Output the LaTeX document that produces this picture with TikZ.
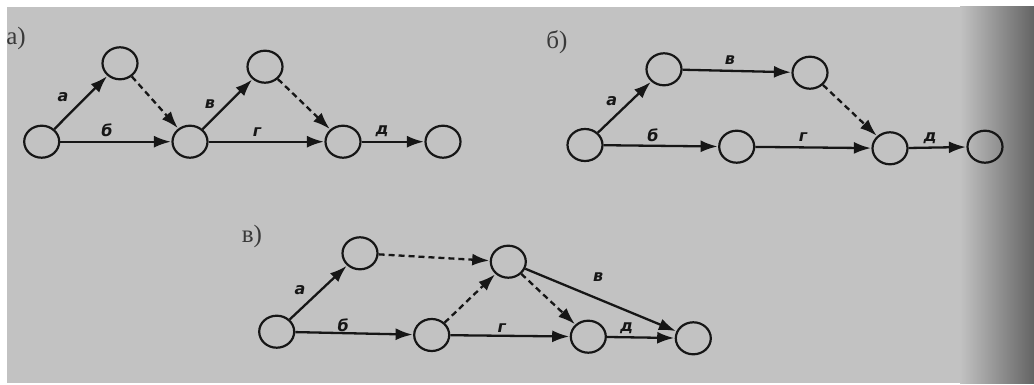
\documentclass[tikz,border=0pt]{standalone}
\usepackage{fontspec}
\setmainfont{Liberation Serif}
\newfontfamily\lblfont{DejaVu Sans}
\usetikzlibrary{arrows.meta,shapes.geometric}
\definecolor{paper}{RGB}{194,194,194}
\definecolor{paperdark}{RGB}{100,100,100}
\definecolor{ink}{RGB}{22,22,22}
\tikzset{
  ev/.style={ellipse, draw=ink, line width=2.2pt, minimum width=35pt, minimum height=32pt, inner sep=0pt},
  job/.style={draw=ink, line width=2.3pt, -{Latex[length=17pt,width=12pt]}, shorten >=0.5pt},
  dummy/.style={job, dash pattern=on 6pt off 4pt},
  jl/.style={font=\lblfont\bfseries\itshape\fontsize{16}{16}\selectfont, text=ink, inner sep=0pt},
  pl/.style={font=\fontsize{25}{25}\selectfont, text=ink!85, inner sep=0pt},
}
\begin{document}
\begin{tikzpicture}[x=1pt, y=-1pt]
\useasboundingbox (0,0) rectangle (1034,385);
% scanned page
\fill[white] (0,0) rectangle (1034,385);
\fill[paper] (7,7) rectangle (1034,383);
\shade[left color=paper, right color=paperdark] (960,7) rectangle (1034,383);

% ---- a)
\node[pl] (pa) at (16,38) {а)};
\node[ev] (a1) at (41.7,141.7) {};
\node[ev] (a2) at (120,63.3) {};
\node[ev] (a3) at (190,141.7) {};
\node[ev] (a4) at (265,66.7) {};
\node[ev] (a5) at (343,141.7) {};
\node[ev] (a6) at (443,141.7) {};
\draw[job] (a1) -- (a2);
\draw[job] (a1) -- (a3);
\draw[dummy] (a2) -- (a3);
\draw[job] (a3) -- (a4);
\draw[job] (a3) -- (a5);
\draw[dummy] (a4) -- (a5);
\draw[job] (a5) -- (a6);
\node[jl] (la1) at (63,97) {а};
\node[jl] (la2) at (107,130) {б};
\node[jl] (la3) at (210,104) {в};
\node[jl] (la4) at (257,132) {г};
\node[jl] (la5) at (382,131) {д};

% ---- б)
\node[pl] (pb) at (557,42) {б)};
\node[ev] (b1) at (585,145) {};
\node[ev] (b2) at (664,69.3) {};
\node[ev] (b3) at (810,72.7) {};
\node[ev] (b4) at (736.7,146.7) {};
\node[ev] (b5) at (890,148.3) {};
\node[ev] (b6) at (985,146.7) {};
\draw[job] (b1) -- (b2);
\draw[job] (b1) -- (b4);
\draw[job] (b2) -- (b3);
\draw[dummy] (b3) -- (b5);
\draw[job] (b4) -- (b5);
\draw[job] (b5) -- (b6);
\node[jl] (lb1) at (611.7,101) {а};
\node[jl] (lb2) at (653,135) {б};
\node[jl] (lb3) at (730,60) {в};
\node[jl] (lb4) at (803,137) {г};
\node[jl] (lb5) at (930,138) {д};

% ---- в)
\node[pl] (pc) at (252,236) {в)};
\node[ev] (c1) at (276.7,331.7) {};
\node[ev] (c2) at (360,253.3) {};
\node[ev] (c3) at (431.7,335) {};
\node[ev] (c4) at (508.3,261.7) {};
\node[ev] (c5) at (588.3,336.7) {};
\node[ev] (c6) at (693.3,338.3) {};
\draw[job] (c1) -- (c2);
\draw[job] (c1) -- (c3);
\draw[dummy] (c2) -- (c4);
\draw[dummy] (c3) -- (c4);
\draw[dummy] (c4) -- (c5);
\draw[job] (c4) -- (c6);
\draw[job] (c3) -- (c5);
\draw[job] (c5) -- (c6);
\node[jl] (lc1) at (300,290) {а};
\node[jl] (lc2) at (343.3,325) {б};
\node[jl] (lc3) at (598.3,277) {в};
\node[jl] (lc4) at (501.7,328) {г};
\node[jl] (lc5) at (626.7,328) {д};
\end{tikzpicture}
\end{document}
